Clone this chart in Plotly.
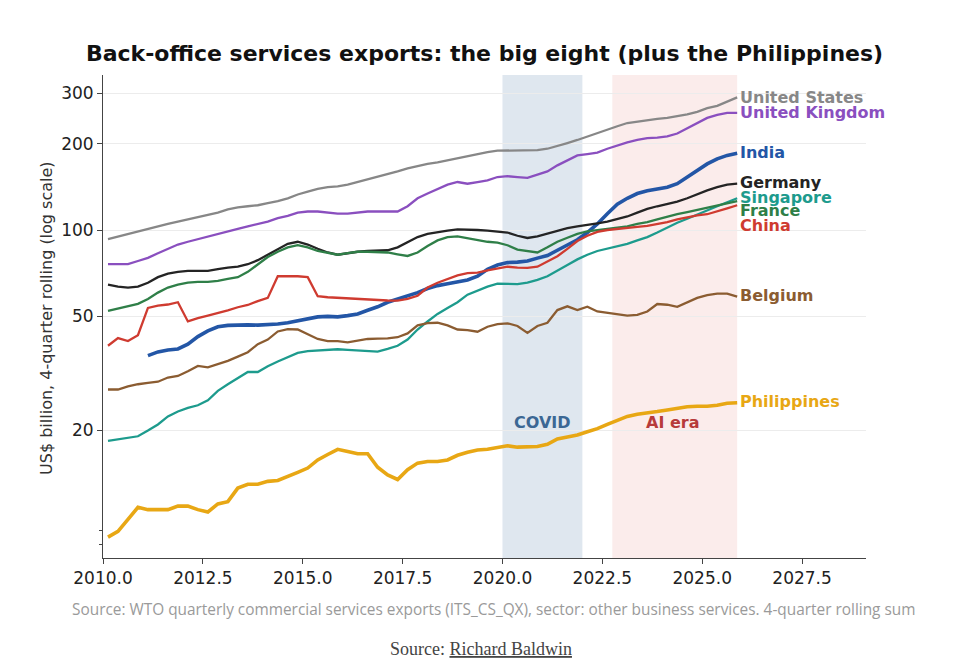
import numpy as np
import plotly.graph_objects as go

# quarterly observations, plotted at mid-quarter
years = list(range(2010, 2026))
quarters = [f"{y}Q{q}" for y in years for q in (1, 2, 3, 4)]
t = [int(s[:4]) + (int(s[-1]) - 0.5) / 4 for s in quarters]

united_states = [93, 95, 97, 99, 101, 103, 105, 107, 109, 111, 113, 115, 118, 120, 121, 122,
                 124, 126, 129, 133, 136, 139, 141, 142, 144, 147, 150, 153, 156, 160, 164, 167,
                 170, 172, 175, 178, 181, 184, 187, 189, 189, 190, 190, 190, 192, 196, 201, 206,
                 212, 218, 224, 230, 236, 239, 242, 244, 246, 249, 253, 258, 266, 271, 280, 290]
united_kingdom = [76, 76, 76, 78, 80, 83, 86, 89, 91, 93, 95, 97, 99, 101, 103, 105,
                  107, 110, 112, 115, 116, 116, 115, 114, 114, 115, 116, 116, 116, 116, 121, 129,
                  134, 139, 144, 147, 145, 147, 149, 153, 154, 153, 152, 156, 160, 168, 175, 182,
                  184, 186, 192, 197, 202, 206, 209, 210, 212, 217, 226, 236, 246, 252, 256, 256]
india = [None, None, None, None, 36.5, 37.6, 38.2, 38.5, 40, 42.5, 44.5, 46, 46.5, 46.7, 46.7, 46.6,
         46.7, 47, 47.5, 48.2, 49, 49.8, 50, 49.8, 50.3, 51, 52.5, 54, 56, 57.5, 58.7, 60.5,
         62.5, 64, 65, 66, 67, 69, 73, 75.5, 77, 77.3, 78, 79.8, 81.5, 85, 88.5, 92.5,
         98, 105, 114, 123, 129, 134, 137, 139, 141, 145, 153, 162, 170, 177, 182, 185]
germany = [64.5, 63.5, 63, 63.5, 65.5, 68.5, 70.5, 71.5, 72, 72, 72, 73, 74, 74.5, 76, 78.5,
           82, 86, 89.5, 91, 89, 86, 83.5, 82, 83, 84, 84.5, 84.5, 85, 87, 90.5, 94.5,
           97, 98.5, 99.5, 100.5, 100.5, 100, 99.5, 99, 98, 95.5, 93.8, 95, 97, 99.5, 101.5, 103,
           104, 105.5, 107, 109, 111.5, 115, 118.5, 121, 123, 125.5, 129, 133.5, 137.5, 141, 144, 145]
singapore = [18.4, 18.6, 18.8, 19.1, 20, 21, 22.4, 23.3, 24, 24.5, 25.5, 27.5, 29, 30.5, 32, 32,
             33.5, 34.8, 36, 37.3, 37.8, 38, 38.2, 38.4, 38.2, 38, 37.8, 37.7, 38.5, 39.5, 41.5, 45,
             48, 51, 53.5, 56, 59.5, 61.5, 63.5, 65, 65, 64.8, 65.5, 67, 69, 72, 75.5, 79,
             82, 84.5, 86, 87.5, 89.5, 92, 94.5, 98, 102, 106, 109.5, 113, 117, 121, 125, 129]
france = [52.3, 53.2, 54.3, 55.3, 57.5, 60.5, 63, 64.5, 65.5, 66, 66, 66.5, 67.5, 68.5, 71.5, 76,
          80.5, 84, 87, 88.5, 87, 84.5, 83, 82, 83, 84, 84, 84, 83.5, 82.3, 81.2, 83.5,
          88, 92, 94.5, 95, 93.5, 92.5, 91, 90.3, 88.5, 85.5, 84.5, 83.5, 87, 91, 94, 97,
          99, 100, 101, 102, 103, 105, 106.5, 109, 111.5, 113.5, 115.5, 117.5, 119, 121, 123.5, 126]
china = [39.5, 42, 41, 43, 53.5, 54.5, 55, 56, 48, 49.3, 50.3, 51.3, 52.5, 53.8, 54.8, 56.5,
         58, 69, 69.2, 69, 68.5, 58.8, 58.3, 58, 57.8, 57.5, 57.2, 57, 56.8, 56.7, 57.5, 59,
         63, 65.5, 67.5, 69.5, 70.8, 71, 72.3, 73.5, 74.5, 74, 73.8, 74.5, 77.5, 81, 86, 91.5,
         95.5, 98.5, 100, 101, 101.8, 102.5, 103.3, 104.8, 106.5, 109, 111, 112.5, 113.5, 116, 119, 122]
belgium = [27.8, 27.8, 28.5, 29, 29.3, 29.6, 30.6, 31, 32.2, 33.6, 33.2, 34, 35, 36.2, 37.5, 40,
           41.5, 44.3, 45.1, 45, 43.3, 41.7, 41, 41, 40.6, 41.2, 41.7, 41.8, 41.9, 42.3, 43.6, 46.5,
           47.4, 47.5, 46.5, 45, 44.8, 44.2, 46, 47, 47.3, 46.3, 43.8, 46.3, 47.5, 52.6, 54.2, 52.6,
           54, 52, 51.5, 50.8, 50.3, 50.6, 52, 55.2, 54.9, 54, 56, 58, 59.3, 60, 60, 58.6]
philippines = [8.5, 8.9, 9.8, 10.8, 10.6, 10.6, 10.6, 10.9, 10.9, 10.6, 10.4, 11.1, 11.3, 12.6, 13.0, 13.0,
               13.3, 13.4, 13.8, 14.3, 14.8, 15.8, 16.5, 17.2, 16.9, 16.6, 16.6, 14.9, 14.0, 13.5, 14.6, 15.4,
               15.6, 15.6, 15.8, 16.4, 16.8, 17.1, 17.2, 17.4, 17.7, 17.5, 17.5, 17.6, 17.9, 18.7, 19.0, 19.3,
               19.8, 20.3, 21.0, 21.7, 22.4, 22.8, 23.0, 23.3, 23.6, 23.9, 24.2, 24.3, 24.3, 24.5, 24.9, 25.0]

countries = ["United States", "United Kingdom", "India", "Germany", "Singapore",
             "France", "China", "Belgium", "Philippines"]
series = [united_states, united_kingdom, india, germany, singapore,
          france, china, belgium, philippines]
colors = ["#878787", "#8a4fbf", "#2356a6", "#242424", "#1d9b8d",
          "#2f7f48", "#cf3b30", "#8b5c31", "#e8a714"]
widths = [2.3, 2.3, 3.6, 2.3, 2.3, 2.3, 2.3, 2.3, 3.6]
# where the end labels sit (value units), nudged apart where lines bunch up
label_y = [290, 256, 187, 146, 130, 116.5, 104, 58.9, 25.2]

covid = (2020.0, 2022.0)
ai_era = (2022.75, t[-1])

y_ticks = [20, 50, 100, 200, 300]
x_ticks = [2010.0, 2012.5, 2015.0, 2017.5, 2020.0, 2022.5, 2025.0, 2027.5]

font = "DejaVu Sans"
W, H = 940, 656  # page body keeps an 8px margin

fig = go.Figure()

fig.add_vrect(x0=covid[0], x1=covid[1], fillcolor="#dfe7ef", line_width=0, layer="below")
fig.add_vrect(x0=ai_era[0], x1=ai_era[1], fillcolor="#fbeceb", line_width=0, layer="below")

for name, vals, col, w in zip(countries, series, colors, widths):
    fig.add_trace(go.Scatter(x=t, y=vals, mode="lines", name=name,
                             line=dict(color=col, width=w), showlegend=False))

for name, col, ly in zip(countries, colors, label_y):
    fig.add_annotation(x=t[-1], y=np.log10(ly), text=f"<b>{name}</b>", showarrow=False,
                       xanchor="left", yanchor="middle", xshift=1,
                       font=dict(family=font, size=16, color=col))

fig.add_annotation(x=2021.0, y=np.log10(21.4), text="<b>COVID</b>", showarrow=False,
                   font=dict(family=font, size=16, color="#3b6794"))
fig.add_annotation(x=2024.25, y=np.log10(21.3), text="<b>AI era</b>", showarrow=False,
                   font=dict(family=font, size=16, color="#b73a3a"))

fig.add_annotation(xref="paper", yref="paper", x=-0.0734, y=0.497,
                   xanchor="center", yanchor="middle",
                   text="US$ billion, 4-quarter rolling (log scale)", textangle=-90,
                   showarrow=False, font=dict(family=font, size=16, color="#333"))

fig.add_annotation(xref="paper", yref="paper", x=-0.0433, y=-0.1056,
                   xanchor="left", yanchor="middle",
                   text="Source: WTO quarterly commercial services exports (ITS_CS_QX), "
                        "sector: other business services. 4-quarter rolling sum",
                   showarrow=False, font=dict(family="Open Sans", size=15.4, color="#9a9a9a"))
fig.add_annotation(xref="paper", yref="paper", x=0.4954, y=-0.188,
                   xanchor="center", yanchor="middle",
                   text='Source: <span style="text-decoration:underline">Richard Baldwin</span>',
                   showarrow=False, font=dict(family="Liberation Serif", size=18, color="#444"))

fig.update_layout(
    width=W, height=H,
    paper_bgcolor="white", plot_bgcolor="white",
    margin=dict(l=95, r=82, t=67, b=106),
    title=dict(text="<b>Back-office services exports: the big eight (plus the Philippines)</b>",
               x=(484.5 - 8) / W, xanchor="center", y=1 - 45 / H, yanchor="middle",
               font=dict(family=font, size=22, color="#111")),
    xaxis=dict(range=[2010.0, 2029.1], tickvals=x_ticks,
               ticktext=[f"{v:.1f}" for v in x_ticks],
               showgrid=False, zeroline=False, showline=True, linecolor="#444", linewidth=1,
               ticks="outside", ticklen=5, tickcolor="#444",
               tickfont=dict(family=font, size=17, color="#222")),
    yaxis=dict(type="log", range=[np.log10(7.19), np.log10(347)], tickvals=y_ticks,
               ticktext=[str(v) for v in y_ticks],
               showgrid=True, gridcolor="#ececec", gridwidth=1, zeroline=False,
               showline=True, linecolor="#444", linewidth=1,
               ticks="outside", ticklen=5, tickcolor="#444",
               minor=dict(tickvals=[8, 9], ticklen=3, tickcolor="#444", showgrid=False),
               tickfont=dict(family=font, size=17, color="#222")),
)

fig.write_html("out.html")
